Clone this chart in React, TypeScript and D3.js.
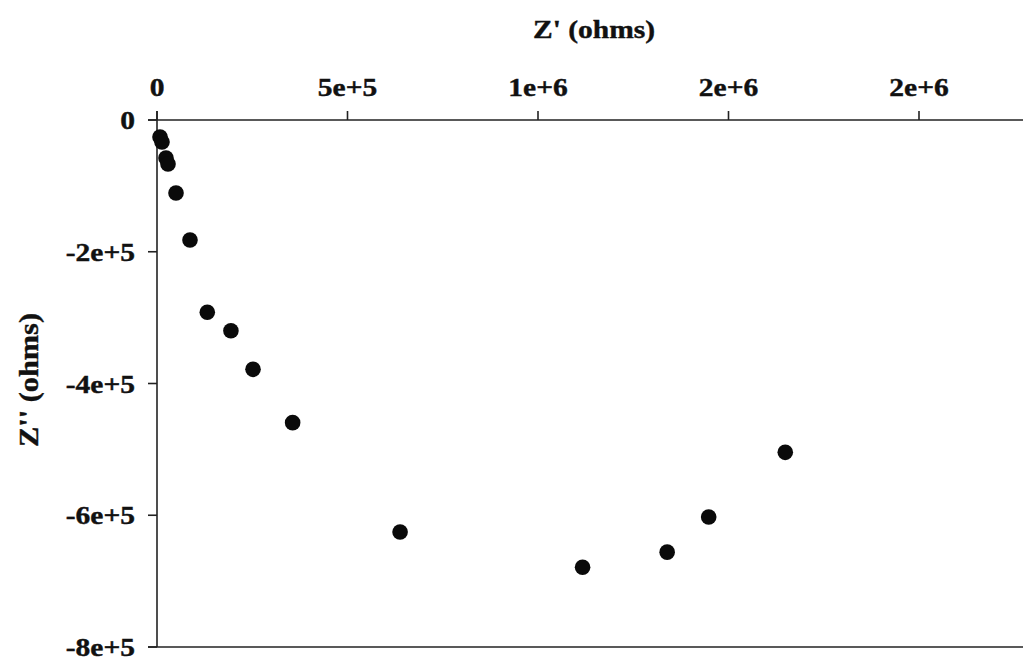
import React from "react";
import * as d3 from "d3";

const zReal = [7.9e3, 1.31e4, 2.36e4, 2.89e4, 4.99e4, 8.66e4, 1.32e5, 1.94e5, 2.52e5, 3.56e5, 6.38e5, 1.117e6, 1.339e6, 1.448e6, 1.649e6];
const zImag = [-2.58e4, -3.34e4, -5.77e4, -6.68e4, -1.108e5, -1.822e5, -2.919e5, -3.2e5, -3.785e5, -4.594e5, -6.254e5, -6.79e5, -6.56e5, -6.027e5, -5.045e5];

const xTickValues = [0, 5e5, 1e6, 1.5e6, 2e6];
const xTickLabels = ["0", "5e+5", "1e+6", "2e+6", "2e+6"];
const yTickValues = [0, -2e5, -4e5, -6e5, -8e5];
const yTickLabels = ["0", "-2e+5", "-4e+5", "-6e+5", "-8e+5"];

const xTitle = "Z' (ohms)";
const yTitle = "Z'' (ohms)";

const W = 1023;
const H = 659;
const left = 157;
const top = 120;
const bottom = 647;
const right = 1023;

export default function App() {
  const x = d3.scaleLinear().domain([0, 2e6]).range([left, 919]);
  const y = d3.scaleLinear().domain([0, -8e5]).range([top, bottom]);
  const font = "Liberation Serif, Times New Roman, serif";
  const sx = 1.18;
  const fs = 25;
  return (
    <svg width={W} height={H} style={{ position: "absolute", left: 0, top: 0, background: "#fff" }}>
      <rect x={0} y={0} width={W} height={H} fill="#fff" />
      {/* top axis */}
      <line x1={148} x2={right} y1={top} y2={top} stroke="#222" strokeWidth={1.6} />
      {xTickValues.map((v, i) => (
        <g key={"xt" + i}>
          <line x1={x(v)} x2={x(v)} y1={top} y2={top - 9} stroke="#222" strokeWidth={1.6} />
          <text
            transform={`translate(${x(v)},96) scale(${sx},1)`}
            textAnchor="middle"
            fontFamily={font}
            fontWeight="bold"
            fontSize={fs}
            fill="#111"
            stroke="#111"
            strokeWidth={0.4}
          >
            {xTickLabels[i]}
          </text>
        </g>
      ))}
      {/* left axis */}
      <line x1={left} x2={left} y1={top - 9} y2={bottom} stroke="#222" strokeWidth={1.6} />
      <line x1={148} x2={right} y1={bottom} y2={bottom} stroke="#222" strokeWidth={1.6} />
      {yTickValues.map((v, i) => (
        <g key={"yt" + i}>
          <line x1={148} x2={left} y1={y(v)} y2={y(v)} stroke="#222" strokeWidth={1.6} />
          <text
            transform={`translate(135,${y(v) + 9}) scale(${sx},1)`}
            textAnchor="end"
            fontFamily={font}
            fontWeight="bold"
            fontSize={fs}
            fill="#111"
            stroke="#111"
            strokeWidth={0.4}
          >
            {yTickLabels[i]}
          </text>
        </g>
      ))}
      {/* titles */}
      <text
        transform={`translate(594,38) scale(${sx},1)`}
        textAnchor="middle"
        fontFamily={font}
        fontWeight="bold"
        fontSize={fs}
        fill="#111"
        stroke="#111"
        strokeWidth={0.4}
      >
        {xTitle}
      </text>
      <text
        transform={`translate(38,380) rotate(-90)`}
        textAnchor="middle"
        fontFamily={font}
        fontWeight="bold"
        fontSize={27}
        textLength={134}
        lengthAdjust="spacingAndGlyphs"
        fill="#111"
        stroke="#111"
        strokeWidth={0.4}
      >
        {yTitle}
      </text>
      {/* points */}
      {zReal.map((v, i) => (
        <circle key={"p" + i} cx={x(v)} cy={y(zImag[i])} r={7.8} fill="#0a0a0a" />
      ))}
    </svg>
  );
}
